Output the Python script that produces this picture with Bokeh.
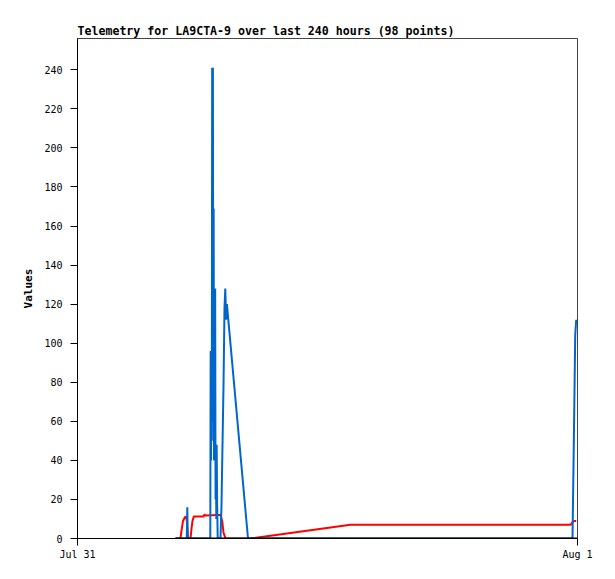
from bokeh.plotting import figure
from bokeh.models import Range1d, FixedTicker
from bokeh.embed import file_html
from bokeh.resources import INLINE

# Time in hours since Jul 31 00:00 (axis spans Jul 31 .. Aug 1)
blue_t = [4.704, 5.246, 5.270, 5.294, 6.374, 6.392, 6.410, 6.428, 6.446, 6.464,
          6.482, 6.500, 6.518, 6.536, 6.554, 6.572, 6.590, 6.608, 6.626, 6.644,
          6.662, 6.680, 6.701, 6.730, 6.864, 6.912, 6.960,
          7.008, 7.056, 7.094, 7.133, 7.171, 8.184, 23.760, 23.822, 23.890, 23.938]
blue_v = [0, 0, 16, 0, 0, 96, 40, 96, 60, 241,
          90, 241, 50, 169, 40, 128, 60, 128, 20, 48,
          10, 48, 19, 0, 0, 17, 48,
          78, 118, 128, 112, 120, 0, 0, 48, 104, 112]

red_t = [4.704, 4.944, 4.992, 5.064, 5.160, 5.232, 5.304, 5.424, 5.472, 5.520,
         5.582, 6.048, 6.096, 6.144, 6.706, 6.864, 6.946, 7.008, 7.104, 8.304,
         13.104, 23.664, 23.736, 23.832, 23.938]
red_v = [0, 0, 4, 9, 11, 11, 0, 0, 5, 9,
         11.3, 11.3, 12.3, 11.8, 12, 12, 9, 3, 0, 0,
         7, 7, 8, 9, 9]

black_t = [4.704, 24.0]
black_v = [0, 0]

x_ticks = [0, 24]
x_labels = ["Jul 31", "Aug 1"]
y_ticks = [0, 20, 40, 60, 80, 100, 120, 140, 160, 180, 200, 220, 240]

MONO = "DejaVu Sans Mono"

p = figure(width=608, height=568, output_backend="svg", toolbar_location=None,
           x_range=Range1d(0, 24), y_range=Range1d(0, 256),
           min_border_left=77, min_border_right=31, min_border_top=38, min_border_bottom=30,
           title="Telemetry for LA9CTA-9 over last 240 hours (98 points)")

p.title.text_font = MONO
p.title.text_font_size = "11.6px"
p.title.text_font_style = "bold"
p.title.text_color = "black"
p.title.align = "left"
p.title.offset = 0
p.title.standoff = 2

p.outline_line_color = "#444444"
p.outline_line_width = 1
p.xgrid.visible = False
p.ygrid.visible = False
p.background_fill_color = "white"
p.border_fill_color = "white"

p.line(red_t, red_v, line_color="#ff0000", line_width=2)
p.line(blue_t, blue_v, line_color="#0066cc", line_width=2)
p.line(black_t, black_v, line_color="#000000", line_width=2)

xa = p.xaxis[0]
xa.ticker = FixedTicker(ticks=x_ticks)
xa.major_label_overrides = {t: l for t, l in zip(x_ticks, x_labels)}
xa.minor_tick_line_color = None
xa.major_tick_in = 0
xa.major_tick_out = 7
xa.major_label_standoff = 3
xa.major_label_text_font = MONO
xa.major_label_text_font_size = "10px"
xa.major_label_text_color = "black"
xa.axis_line_color = "black"
xa.major_tick_line_color = "black"

ya = p.yaxis[0]
ya.ticker = FixedTicker(ticks=y_ticks)
ya.minor_tick_line_color = None
ya.major_tick_in = 0
ya.major_tick_out = 7
ya.major_label_standoff = 8
ya.major_label_text_font = MONO
ya.major_label_text_font_size = "10px"
ya.major_label_text_color = "black"
ya.axis_label = "Values"
ya.axis_label_text_font = MONO
ya.axis_label_text_font_size = "11px"
ya.axis_label_text_font_style = "bold"
ya.axis_label_text_color = "black"
ya.axis_label_standoff = 6
ya.axis_line_color = "black"
ya.major_tick_line_color = "black"

open("out.html", "w").write(file_html(p, INLINE))
